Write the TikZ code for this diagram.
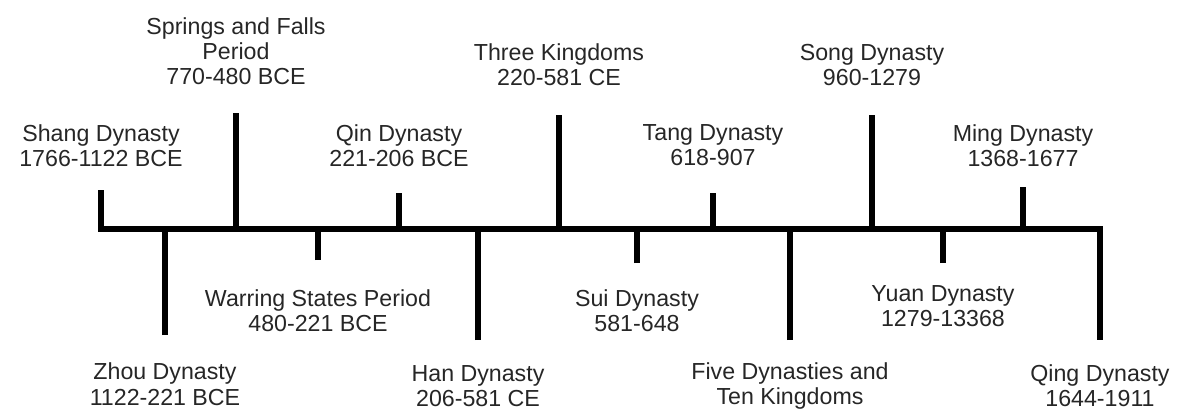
\documentclass[tikz,border=0pt]{standalone}
\usepackage{fontspec}
\setmainfont{Liberation Sans}
\usetikzlibrary{positioning}
\newcommand{\eralabel}[2]{#1 \\ #2}

\begin{document}
\begin{tikzpicture}[scale = 1, every node/.style = {align = center, text = black!85, font = \fontsize{16.5}{17.8}\selectfont}, tick/.style = {line width = 3.6pt, draw = black}]

	\useasboundingbox (0, 0) rectangle (29.5, 10.325);

	% labels above the line
	\node (SHA) at ( 2.525, 6.69) {\eralabel{Shang Dynasty}{1766-1122 BCE}};
	\node (SPF) at ( 5.9,   9.05) {\eralabel{Springs and Falls\\Period}{770-480 BCE}};
	\node (QIN) at ( 9.975, 6.69) {\eralabel{Qin Dynasty}{221-206 BCE}};
	\node (TKG) at (13.975, 8.7)  {\eralabel{Three Kingdoms}{220-581 CE}};
	\node (TAN) at (17.825, 6.69) {\eralabel{Tang Dynasty}{618-907}};
	\node (SON) at (21.8,   8.7)  {\eralabel{Song Dynasty}{960-1279}};
	\node (MIN) at (25.575, 6.69) {\eralabel{Ming Dynasty}{1368-1677}};

	% labels below the line
	\node (ZHO) at ( 4.125, 0.72) {\eralabel{Zhou Dynasty}{1122-221 BCE}};
	\node (WSP) at ( 7.95,  2.56) {\eralabel{Warring States Period}{480-221 BCE}};
	\node (HAN) at (11.95,  0.68) {\eralabel{Han Dynasty}{206-581 CE}};
	\node (SUI) at (15.925, 2.56) {\eralabel{Sui Dynasty}{581-648}};
	\node (FDT) at (19.75,  0.68) {\eralabel{Five Dynasties and}{Ten Kingdoms}};
	\node (YUA) at (23.575, 2.675) {\eralabel{Yuan Dynasty}{1279-13368}};
	\node (QIN2) at (27.5,  0.68) {\eralabel{Qing Dynasty}{1644-1911}};

	% tick ends
	\coordinate (SHAt) at ( 2.525, 5.575);
	\coordinate (SPFt) at ( 5.9,   7.5);
	\coordinate (QINt) at ( 9.975, 5.5);
	\coordinate (TKGt) at (13.975, 7.45);
	\coordinate (TANt) at (17.825, 5.5);
	\coordinate (SONt) at (21.8,   7.45);
	\coordinate (MINt) at (25.575, 5.65);
	\coordinate (ZHOt) at ( 4.125, 1.95);
	\coordinate (WSPt) at ( 7.95,  3.825);
	\coordinate (HANt) at (11.95,  1.825);
	\coordinate (SUIt) at (15.925, 3.75);
	\coordinate (FDTt) at (19.75,  1.825);
	\coordinate (YUAt) at (23.575, 3.75);
	\coordinate (QIN2t) at (27.5,  1.825);

	\coordinate (axisL) at ( 2.525, 4.6);
	\coordinate (axisR) at (27.5,   4.6);

	\draw [tick] (SHAt) -- (axisL) -- (axisR) -- (QIN2t);

	\foreach \tip in {SPFt, QINt, TKGt, TANt, SONt, MINt, ZHOt, WSPt, HANt, SUIt, FDTt, YUAt}
		\draw [tick] (\tip) -- (\tip |- axisL);

\end{tikzpicture}
\end{document}
